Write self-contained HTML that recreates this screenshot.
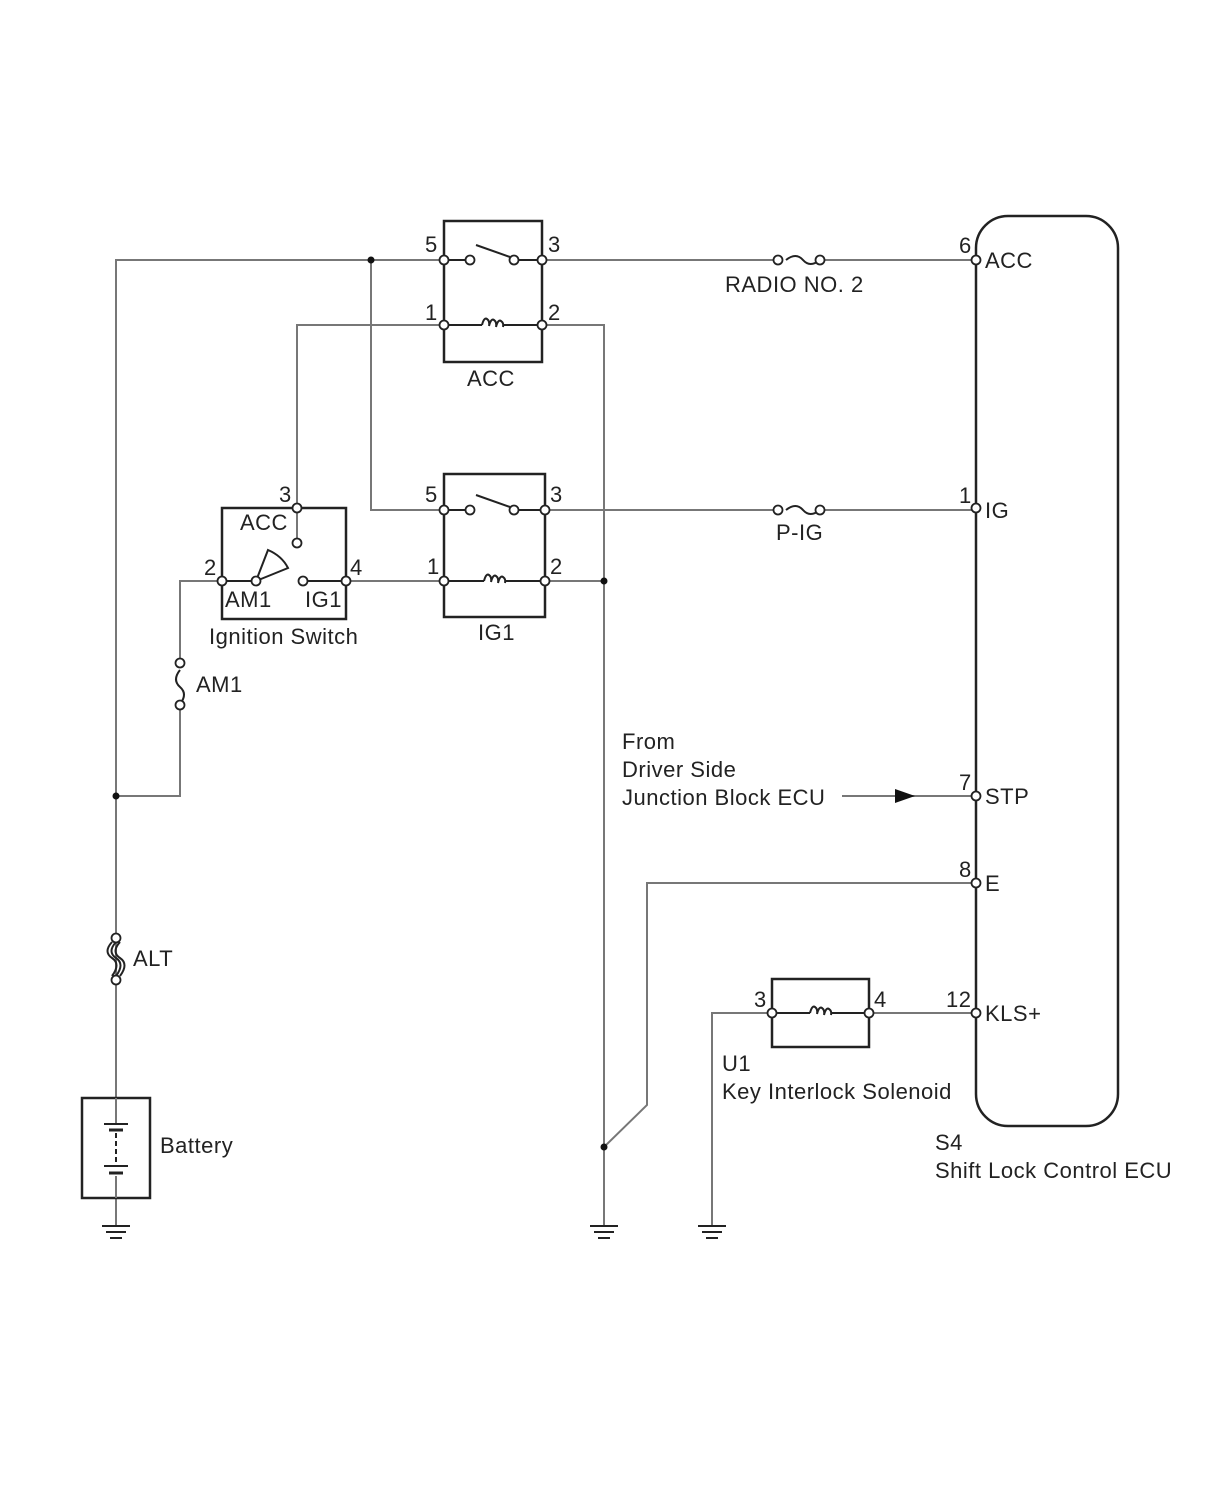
<!DOCTYPE html>
<html><head><meta charset="utf-8"><style>
html,body{margin:0;padding:0;background:#fff;}
svg{display:block;}
text{font-family:"Liberation Sans",Arial,sans-serif;font-size:22px;letter-spacing:0.5px;fill:#222;}
</style></head><body>
<svg width="1210" height="1498" viewBox="0 0 1210 1498" xmlns="http://www.w3.org/2000/svg">
<g stroke="#777" stroke-width="2" fill="none">
<path d="M116 1098 V260 H444"/>
<path d="M542 260 H778 M820 260 H976"/>
<path d="M371 260 V510 H444"/>
<path d="M545 510 H778 M820 510 H976"/>
<path d="M444 325 H297 V508"/>
<path d="M542 325 H604 V1225"/>
<path d="M346 581 H444"/>
<path d="M545 581 H604"/>
<path d="M222 581 H180 V663 M180 705 V796 H116"/>
<path d="M976 883 H647 V1105 L604 1147"/>
<path d="M772 1013 H712 V1225"/>
<path d="M869 1013 H976"/>
<path d="M842 796 H976"/>
<path d="M116 1198 V1225"/>
<path d="M297 508 V543"/>
</g>
<g stroke="#222" stroke-width="2" fill="none">
<path d="M444 260 H470 M514 260 H542"/>
<path d="M476 245 L510 257"/>
<path d="M444 325 H482 M504 325 H542"/>
<path d="M482 325 q2 -8 5 -6 q3 2 2 7 q2 -8 5 -6 q3 2 2 7 q2 -8 5 -6 q3 2 2 6"/>
<path d="M444 510 H470 M514 510 H545"/>
<path d="M476 495 L510 507"/>
<path d="M444 581 H484 M506 581 H545"/>
<path d="M484 581 q2 -8 5 -6 q3 2 2 7 q2 -8 5 -6 q3 2 2 7 q2 -8 5 -6 q3 2 2 6"/>
<path d="M772 1013 H810 M832 1013 H869"/>
<path d="M810 1013 q2 -8 5 -6 q3 2 2 7 q2 -8 5 -6 q3 2 2 7 q2 -8 5 -6 q3 2 2 6"/>
<path d="M222 581 H256"/>
<path d="M256 581 L268 550 Q282 556 288 568 Z"/>
<path d="M303 581 H346"/>
</g>
<g stroke="#222" stroke-width="2.5" fill="none">
<path d="M444 260 V221 H542 V260 M444 325 V362 H542 V325"/>
<path d="M444 260 V325 M542 260 V325"/>
<path d="M444 510 V474 H545 V510 M444 510 V617 H545 V510"/>
<rect x="222" y="508" width="124" height="111"/>
<rect x="82" y="1098" width="68" height="100"/>
<rect x="772" y="979" width="97" height="68"/>
<rect x="976" y="216" width="142" height="910" rx="32"/>
</g>
<g stroke="#222" stroke-width="2" fill="none">
<path d="M786 260 q10 -8 17 0 t17 0"/>
<path d="M786 510 q10 -8 17 0 t17 0"/>
<path d="M180 670 q-8 10 0 17 t0 17"/>
<path d="M116 942 q-9 10 0 16 t0 18 M112 942 q-9 10 0 16 t0 18 M120 942 q-9 10 0 16 t0 18"/>
</g>
<g stroke="#222" fill="none">
<path d="M116 1098 V1124 M116 1176 V1198" stroke="#777" stroke-width="2"/>
<path d="M104 1124 H128" stroke-width="2"/>
<path d="M109 1130 H123" stroke-width="3"/>
<path d="M116 1133 V1164" stroke-width="2" stroke-dasharray="5,3"/>
<path d="M104 1166 H128" stroke-width="2"/>
<path d="M109 1173 H123" stroke-width="3"/>
</g>
<g stroke="#222" stroke-width="2">
<path d="M102 1226 H130 M106 1232 H126 M110 1238 H122"/>
<path d="M590 1226 H618 M594 1232 H614 M598 1238 H610"/>
<path d="M698 1226 H726 M702 1232 H722 M706 1238 H718"/>
</g>
<path d="M895 789 L915 796 L895 803 Z" fill="#111"/>
<g fill="#111">
<circle cx="371" cy="260" r="3.5"/><circle cx="604" cy="581" r="3.5"/>
<circle cx="116" cy="796" r="3.5"/><circle cx="604" cy="1147" r="3.5"/>
</g>
<g fill="#fff" stroke="#222" stroke-width="1.8">
<circle cx="444" cy="260" r="4.5"/><circle cx="542" cy="260" r="4.5"/>
<circle cx="470" cy="260" r="4.5"/><circle cx="514" cy="260" r="4.5"/>
<circle cx="444" cy="325" r="4.5"/><circle cx="542" cy="325" r="4.5"/>
<circle cx="444" cy="510" r="4.5"/><circle cx="545" cy="510" r="4.5"/>
<circle cx="470" cy="510" r="4.5"/><circle cx="514" cy="510" r="4.5"/>
<circle cx="444" cy="581" r="4.5"/><circle cx="545" cy="581" r="4.5"/>
<circle cx="297" cy="508" r="4.5"/><circle cx="297" cy="543" r="4.5"/>
<circle cx="222" cy="581" r="4.5"/><circle cx="256" cy="581" r="4.5"/>
<circle cx="303" cy="581" r="4.5"/><circle cx="346" cy="581" r="4.5"/>
<circle cx="778" cy="260" r="4.5"/><circle cx="820" cy="260" r="4.5"/>
<circle cx="778" cy="510" r="4.5"/><circle cx="820" cy="510" r="4.5"/>
<circle cx="180" cy="663" r="4.5"/><circle cx="180" cy="705" r="4.5"/>
<circle cx="116" cy="938" r="4.5"/><circle cx="116" cy="980" r="4.5"/>
<circle cx="772" cy="1013" r="4.5"/><circle cx="869" cy="1013" r="4.5"/>
<circle cx="976" cy="260" r="4.5"/><circle cx="976" cy="508" r="4.5"/>
<circle cx="976" cy="796" r="4.5"/><circle cx="976" cy="883" r="4.5"/>
<circle cx="976" cy="1013" r="4.5"/>
</g>
<text x="425" y="252">5</text><text x="548" y="252">3</text>
<text x="425" y="320">1</text><text x="548" y="320">2</text>
<text x="467" y="386">ACC</text>
<text x="425" y="502">5</text><text x="550" y="502">3</text>
<text x="427" y="574">1</text><text x="550" y="574">2</text>
<text x="478" y="640">IG1</text>
<text x="279" y="502">3</text>
<text x="240" y="530">ACC</text>
<text x="204" y="575">2</text><text x="350" y="575">4</text>
<text x="225" y="607">AM1</text><text x="305" y="607">IG1</text>
<text x="209" y="644">Ignition Switch</text>
<text x="196" y="692">AM1</text>
<text x="133" y="966">ALT</text>
<text x="160" y="1153">Battery</text>
<text x="725" y="292">RADIO NO. 2</text>
<text x="776" y="540">P-IG</text>
<text x="959" y="253">6</text><text x="985" y="268">ACC</text>
<text x="959" y="503">1</text><text x="985" y="518">IG</text>
<text x="959" y="790">7</text><text x="985" y="804">STP</text>
<text x="959" y="877">8</text><text x="985" y="891">E</text>
<text x="946" y="1007">12</text><text x="985" y="1021">KLS+</text>
<text x="754" y="1007">3</text><text x="874" y="1007">4</text>
<text x="622" y="749">From</text>
<text x="622" y="777">Driver Side</text>
<text x="622" y="805">Junction Block ECU</text>
<text x="722" y="1071">U1</text>
<text x="722" y="1099">Key Interlock Solenoid</text>
<text x="935" y="1150">S4</text>
<text x="935" y="1178">Shift Lock Control ECU</text>
</svg>
</body></html>
